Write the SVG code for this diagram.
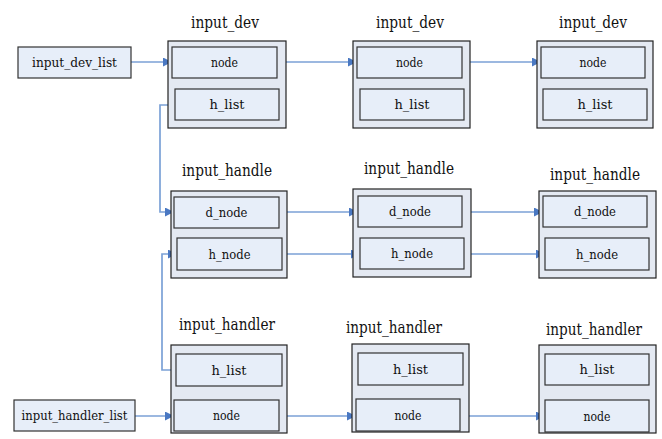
<svg xmlns="http://www.w3.org/2000/svg" width="662" height="439" viewBox="0 0 662 439">
<style>
.outer{fill:#e4e9f2;stroke:#222;stroke-width:1.2}
.inner{fill:#e7eef9;stroke:#333;stroke-width:1.2}
text{font-family:"DejaVu Serif",serif;fill:#111;text-anchor:middle}
.lbl{font-size:13.5px}
.ttl{font-size:16px}
.con{fill:none;stroke:#7ba1d6;stroke-width:1.7}
</style>
<defs>
<marker id="ah" viewBox="0 0 10 10" refX="10" refY="5" markerWidth="9" markerHeight="9" markerUnits="userSpaceOnUse" orient="auto">
<path d="M0,0 L10,5 L0,10 z" fill="#4a78c2"/>
</marker>
</defs>
<rect width="662" height="439" fill="#fff"/>

<g id="connectors">
<line class="con" x1="131" y1="62" x2="172" y2="62" marker-end="url(#ah)"/>
<line class="con" x1="277" y1="62" x2="357" y2="62" marker-end="url(#ah)"/>
<line class="con" x1="462" y1="62" x2="541" y2="62" marker-end="url(#ah)"/>
<polyline class="con" points="175,105 160,105 160,212 174,212" marker-end="url(#ah)"/>
<line class="con" x1="279" y1="212" x2="358" y2="212" marker-end="url(#ah)"/>
<line class="con" x1="462" y1="212" x2="543" y2="212" marker-end="url(#ah)"/>
<polyline class="con" points="176,370 162,370 162,254 177,254" marker-end="url(#ah)"/>
<line class="con" x1="282" y1="254" x2="360" y2="254" marker-end="url(#ah)"/>
<line class="con" x1="464" y1="254" x2="545" y2="254" marker-end="url(#ah)"/>
<line class="con" x1="135" y1="416" x2="174" y2="416" marker-end="url(#ah)"/>
<line class="con" x1="279" y1="416" x2="356" y2="416" marker-end="url(#ah)"/>
<line class="con" x1="460" y1="416" x2="545" y2="416" marker-end="url(#ah)"/>
</g>

<g id="input_dev_list">
<rect class="inner" x="18" y="47" width="113" height="31"/>
<text class="lbl" x="74.5" y="67" textLength="85" lengthAdjust="spacingAndGlyphs">input_dev_list</text>
</g>

<g id="input_dev_1">
<text class="ttl" x="225" y="28" textLength="68" lengthAdjust="spacingAndGlyphs">input_dev</text>
<rect class="outer" x="168" y="41" width="118" height="87"/>
<rect class="inner" x="172" y="47" width="105" height="31"/>
<text class="lbl" x="224.5" y="67" textLength="27" lengthAdjust="spacingAndGlyphs">node</text>
<rect class="inner" x="175" y="89" width="104" height="31"/>
<text class="lbl" x="227" y="109" textLength="35" lengthAdjust="spacingAndGlyphs">h_list</text>
</g>

<g id="input_dev_2">
<text class="ttl" x="410" y="28" textLength="68" lengthAdjust="spacingAndGlyphs">input_dev</text>
<rect class="outer" x="353" y="41" width="117" height="87"/>
<rect class="inner" x="357" y="47" width="105" height="31"/>
<text class="lbl" x="409.5" y="67" textLength="27" lengthAdjust="spacingAndGlyphs">node</text>
<rect class="inner" x="360" y="89" width="104" height="31"/>
<text class="lbl" x="412" y="109" textLength="35" lengthAdjust="spacingAndGlyphs">h_list</text>
</g>

<g id="input_dev_3">
<text class="ttl" x="593" y="28" textLength="68" lengthAdjust="spacingAndGlyphs">input_dev</text>
<rect class="outer" x="537" y="41" width="116" height="87"/>
<rect class="inner" x="541" y="47" width="104" height="31"/>
<text class="lbl" x="593" y="67" textLength="27" lengthAdjust="spacingAndGlyphs">node</text>
<rect class="inner" x="543" y="89" width="104" height="31"/>
<text class="lbl" x="595" y="109" textLength="35" lengthAdjust="spacingAndGlyphs">h_list</text>
</g>

<g id="input_handle_1">
<text class="ttl" x="227" y="176" textLength="90" lengthAdjust="spacingAndGlyphs">input_handle</text>
<rect class="outer" x="171" y="191" width="116" height="87"/>
<rect class="inner" x="174" y="197" width="105" height="31"/>
<text class="lbl" x="226.5" y="217" textLength="42" lengthAdjust="spacingAndGlyphs">d_node</text>
<rect class="inner" x="177" y="238" width="105" height="32"/>
<text class="lbl" x="229.5" y="259" textLength="42" lengthAdjust="spacingAndGlyphs">h_node</text>
</g>

<g id="input_handle_2">
<text class="ttl" x="409" y="174" textLength="90" lengthAdjust="spacingAndGlyphs">input_handle</text>
<rect class="outer" x="353" y="189" width="118" height="88"/>
<rect class="inner" x="358" y="196" width="104" height="31"/>
<text class="lbl" x="410" y="216" textLength="42" lengthAdjust="spacingAndGlyphs">d_node</text>
<rect class="inner" x="360" y="238" width="104" height="31"/>
<text class="lbl" x="412" y="258" textLength="42" lengthAdjust="spacingAndGlyphs">h_node</text>
</g>

<g id="input_handle_3">
<text class="ttl" x="595" y="180" textLength="90" lengthAdjust="spacingAndGlyphs">input_handle</text>
<rect class="outer" x="539" y="191" width="117" height="87"/>
<rect class="inner" x="543" y="196" width="104" height="31"/>
<text class="lbl" x="595" y="216" textLength="42" lengthAdjust="spacingAndGlyphs">d_node</text>
<rect class="inner" x="545" y="238" width="104" height="32"/>
<text class="lbl" x="597" y="259" textLength="42" lengthAdjust="spacingAndGlyphs">h_node</text>
</g>

<g id="input_handler_list">
<rect class="inner" x="14" y="400" width="121" height="31"/>
<text class="lbl" x="74.5" y="420" textLength="106" lengthAdjust="spacingAndGlyphs">input_handler_list</text>
</g>

<g id="input_handler_1">
<text class="ttl" x="227" y="330" textLength="96" lengthAdjust="spacingAndGlyphs">input_handler</text>
<rect class="outer" x="171" y="345" width="116" height="88"/>
<rect class="inner" x="176" y="354" width="106" height="32"/>
<text class="lbl" x="229" y="375" textLength="35" lengthAdjust="spacingAndGlyphs">h_list</text>
<rect class="inner" x="174" y="400" width="105" height="31"/>
<text class="lbl" x="226.5" y="420" textLength="27" lengthAdjust="spacingAndGlyphs">node</text>
</g>

<g id="input_handler_2">
<text class="ttl" x="394" y="333" textLength="96" lengthAdjust="spacingAndGlyphs">input_handler</text>
<rect class="outer" x="352" y="344" width="117" height="88"/>
<rect class="inner" x="358" y="353" width="105" height="32"/>
<text class="lbl" x="410.5" y="374" textLength="35" lengthAdjust="spacingAndGlyphs">h_list</text>
<rect class="inner" x="356" y="399" width="104" height="32"/>
<text class="lbl" x="408" y="420" textLength="27" lengthAdjust="spacingAndGlyphs">node</text>
</g>

<g id="input_handler_3">
<text class="ttl" x="594" y="335" textLength="96" lengthAdjust="spacingAndGlyphs">input_handler</text>
<rect class="outer" x="539" y="345" width="117" height="88"/>
<rect class="inner" x="545" y="354" width="104" height="31"/>
<text class="lbl" x="597" y="374" textLength="35" lengthAdjust="spacingAndGlyphs">h_list</text>
<rect class="inner" x="545" y="400" width="104" height="32"/>
<text class="lbl" x="597" y="421" textLength="27" lengthAdjust="spacingAndGlyphs">node</text>
</g>
</svg>
